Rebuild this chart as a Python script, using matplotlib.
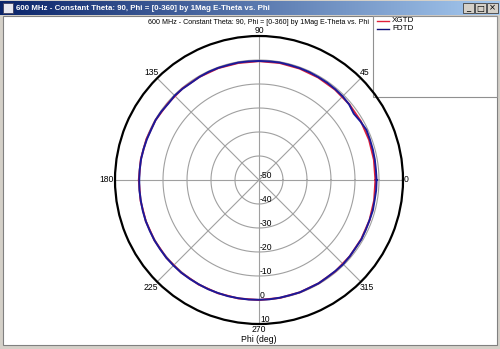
import numpy as np
import matplotlib
matplotlib.use("Agg")
import matplotlib.pyplot as plt
from matplotlib.patches import Rectangle

# ---------------- data ----------------
window_title = "600 MHz - Constant Theta: 90, Phi = [0-360] by 1Mag E-Theta vs. Phi"
plot_title = "600 MHz - Constant Theta: 90, Phi = [0-360] by 1Mag E-Theta vs. Phi"
x_label = "Phi (deg)"
series_names = ["XGTD", "FDTD"]

xgtd_phi = list(range(0, 360, 10))
xgtd_db = [-1.5, -1.4, -1.2, -1.0, -0.9, -0.8, -0.7, -0.6, -0.5,
           -0.5, -0.5, -0.4, -0.4, -0.3, -0.4, -0.2, -0.1, 0.0,
           0.1, 0.1, 0.2, 0.3, 0.4, 0.4, 0.3, 0.2, 0.1,
           0.0, -0.1, -0.2, -0.3, -0.4, -0.6, -0.8, -1.0, -1.3]

fdtd_phi = list(range(0, 360, 5))
fdtd_db = [-1.0, -1.1, -1.0, -0.9, -0.8, -0.6, -1.2, -1.8, -1.0,
           -0.7, -0.6, -0.5, -0.5, -0.4, -0.4, -0.4, -0.3, -0.4,
           -0.4, -0.4, -0.3, -0.4, -0.3, -0.3, -0.4, -0.6, -0.4,
           -0.3, -0.6, -0.3, -0.2, -0.4, -0.3, -0.2, -0.1, -0.1,
           -0.1, 0.0, 0.0, 0.1, 0.2, 0.2, 0.3, 0.3, 0.4,
           0.4, 0.4, 0.3, 0.2, 0.2, 0.1, 0.1, 0.0, 0.0,
           -0.1, -0.1, -0.2, -0.3, -0.2, -0.4, -0.3, -0.5, -0.5,
           -0.4, -0.6, -0.8, -0.7, -0.9, -1.0, -0.9, -1.1, -1.0]

angle_ticks = [0, 45, 90, 135, 180, 225, 270, 315]
angle_labels = ["0", "45", "90", "135", "180", "225", "270", "315"]
r_min, r_max = -50, 10
ring_values = [-40, -30, -20, -10, 0]
ring_labels_vals = [-50, -40, -30, -20, -10, 0, 10]

# ---------------- style ----------------
FONT = ["Liberation Sans", "DejaVu Sans"]
W, H = 500, 349
fig = plt.figure(figsize=(W / 100, H / 100), dpi=100)
fig.patch.set_facecolor("white")

bg = fig.add_axes([0, 0, 1, 1])
bg.set_xlim(0, W)
bg.set_ylim(H, 0)
bg.axis("off")

# window frame
frame_col = "#d4d0c8"
bg.add_patch(Rectangle((0, 0), W, H, facecolor=frame_col, edgecolor="none"))
bg.add_patch(Rectangle((3, 16), W - 6, H - 20, facecolor="white", edgecolor="#808080", lw=0.8))
grad = np.linspace(0, 1, 256)[None, :]
c0 = np.array([10, 36, 106]) / 255
c1 = np.array([166, 202, 240]) / 255
img = c0[None, None, :] * (1 - grad[..., None]) + c1[None, None, :] * grad[..., None]
bg.imshow(img, extent=(0, W, 15, 1), aspect="auto", zorder=1)
bg.add_patch(Rectangle((3, 3), 10, 10, facecolor="#e8e8f0", edgecolor="#404060", lw=0.6, zorder=2))
bg.text(16, 8, window_title, color="white", fontsize=5.7, fontweight="bold",
        family=FONT, va="center", ha="left", zorder=3)
for i, sym in enumerate(["_", "□", "×"]):
    x0 = 463 + i * 12
    bg.add_patch(Rectangle((x0, 3), 11, 10, facecolor=frame_col, edgecolor="#404040", lw=0.6, zorder=2))
    bg.text(x0 + 5.5, 8, sym, fontsize=6, ha="center", va="center", color="black", zorder=3,
            family=["DejaVu Sans"])
# legend box
bg.add_patch(Rectangle((373, 16), W - 3 - 373, 81, facecolor="white", edgecolor="#909090", lw=0.8, zorder=2))
leg_colors = ["#e0203a", "#10107a"]
for i, (name, col) in enumerate(zip(series_names, leg_colors)):
    y = 21 + i * 8
    bg.plot([377, 389], [y, y], color=col, lw=1.0, zorder=3)
    bg.text(392, y, name, fontsize=5.8, family=FONT, va="center", ha="left", zorder=3)

# plot title
bg.text(259, 23, plot_title, fontsize=5.1, family=FONT, ha="center", va="center", zorder=3)

# ---------------- polar axes ----------------
cx, cy, R = 259, 180, 144
ax = fig.add_axes([(cx - R) / W, (H - cy - R) / H, 2 * R / W, 2 * R / H], projection="polar")
ax.set_facecolor("none")
ax.set_ylim(r_min, r_max)
ax.set_xticks([])
ax.set_yticks([])
ax.grid(False)
ax.spines["polar"].set_linewidth(1.6)
ax.spines["polar"].set_color("black")

th = np.linspace(0, 2 * np.pi, 400)
for rv in ring_values:
    ax.plot(th, np.full_like(th, rv), color="#a0a0a0", lw=0.8, zorder=1)
for a in angle_ticks:
    t = np.radians(a)
    ax.plot([t, t], [r_min, r_max], color="#a0a0a0", lw=0.8, zorder=1)

def closed(phi, vals):
    p = np.radians(np.array(list(phi) + [phi[0] + 360]))
    v = np.array(list(vals) + [vals[0]])
    return p, v

p, v = closed(xgtd_phi, xgtd_db)
ax.plot(p, v, color=leg_colors[0], lw=1.4, zorder=3)
p, v = closed(fdtd_phi, fdtd_db)
ax.plot(p, v, color="#1a1a9a", lw=1.4, zorder=4)

offs = {0: (1, 0, "left", "center"), 45: (-1, 1, "left", "bottom"),
        90: (0, 1, "center", "bottom"), 135: (1, 1, "right", "bottom"),
        180: (-1, 0, "right", "center"), 225: (1, -1, "right", "top"),
        270: (0, -1, "center", "top"), 315: (-1, -1, "left", "top")}
for a, lbl in zip(angle_ticks, angle_labels):
    dx, dy, ha, va = offs[a]
    ax.annotate(lbl, xy=(np.radians(a), r_max), xytext=(dx, dy), textcoords="offset pixels",
                ha=ha, va=va, fontsize=6.2, family=FONT, annotation_clip=False)
for rv in ring_labels_vals:
    ax.annotate(str(rv), xy=(np.radians(270), rv), xytext=(1, 5), textcoords="offset pixels",
                ha="left", va="center", fontsize=6.2, family=FONT, annotation_clip=False)

bg.text(259, 340, x_label, fontsize=6.2, family=FONT, ha="center", va="center", zorder=3)

fig.savefig("out.png", dpi=100)
